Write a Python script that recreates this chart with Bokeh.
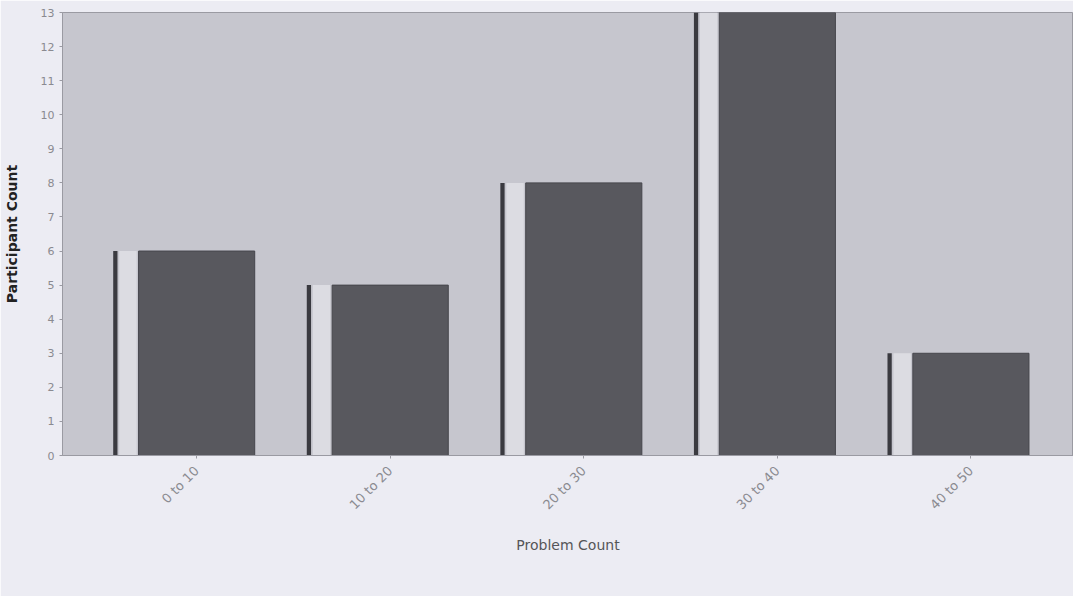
from bokeh.plotting import figure
from bokeh.models import ColumnDataSource, Range1d, FixedTicker, Legend, LegendItem
from bokeh.transform import dodge
from bokeh.embed import file_html
from bokeh.resources import INLINE

categories = ["0 to 10", "10 to 20", "20 to 30", "30 to 40", "40 to 50"]
completed = [6, 5, 8, 13, 3]
y_ticks = list(range(0, 14))

xs = list(range(len(categories)))
src = ColumnDataSource(data=dict(x=xs, top=completed, cat=categories))

p = figure(width=1073, height=590, frame_width=1011, frame_height=443,
           output_backend="svg", toolbar_location=None,
           x_range=Range1d(-0.693, 4.53), y_range=Range1d(0, 13),
           min_border_left=62, min_border_top=12, min_border_right=0, min_border_bottom=0)

p.background_fill_color = "#c6c6ce"
p.border_fill_color = "#ececf3"
p.outline_line_color = "#9a9aa2"
p.grid.visible = False

# 3D-like side: dark edge line and light strip, then dark face
p.vbar(x=dodge("x", -0.42, range=p.x_range), top="top", bottom=0, width=0.022,
       source=src, fill_color="#3a3a40", line_color=None)
p.vbar(x=dodge("x", -0.355, range=p.x_range), top="top", bottom=0, width=0.09,
       source=src, fill_color="#dcdce2", line_color=None)
face = p.vbar(x="x", top="top", bottom=0, width=0.6, source=src,
              fill_color="#58585e", line_color="#46464c", line_width=1)

p.xaxis.ticker = FixedTicker(ticks=xs)
p.xaxis.major_label_overrides = {i: c for i, c in enumerate(categories)}
p.xaxis.major_label_orientation = 0.785
p.xaxis.major_label_text_font_size = "13px"
p.xaxis.major_label_text_color = "#8a8a90"
p.xaxis.major_label_text_font = "DejaVu Sans"
p.xaxis.major_label_standoff = 10
p.xaxis.axis_label = "Problem Count"
p.xaxis.axis_label_text_font_size = "14px"
p.xaxis.axis_label_text_font_style = "normal"
p.xaxis.axis_label_text_color = "#555558"
p.xaxis.axis_label_text_font = "DejaVu Sans"
p.xaxis.axis_label_standoff = 16

p.yaxis.ticker = FixedTicker(ticks=y_ticks)
p.yaxis.major_label_text_font_size = "11px"
p.yaxis.major_label_text_color = "#8a8a90"
p.yaxis.major_label_text_font = "DejaVu Sans"
p.yaxis.axis_label = "Participant Count"
p.yaxis.axis_label_text_font_size = "14px"
p.yaxis.axis_label_text_font_style = "bold"
p.yaxis.axis_label_text_color = "#222222"
p.yaxis.axis_label_text_font = "DejaVu Sans"
p.yaxis.axis_label_standoff = 18

for ax in (p.xaxis, p.yaxis):
    ax.axis_line_color = "#9a9aa2"
    ax.major_tick_line_color = "#9a9aa2"
    ax.minor_tick_line_color = None
    ax.major_tick_out = 3
    ax.major_tick_in = 0

legend = Legend(items=[LegendItem(label="Completed", renderers=[face])],
                orientation="horizontal", location="center",
                label_text_font_size="11px", label_text_color="#777780",
                label_text_font="DejaVu Sans",
                glyph_width=8, glyph_height=8, padding=2, spacing=2, margin=0,
                border_line_color="#888890", background_fill_color="#f2f2f6",
                label_standoff=3, label_height=12)
p.add_layout(legend, "below")

open("out.html", "w").write(file_html(p, INLINE))
